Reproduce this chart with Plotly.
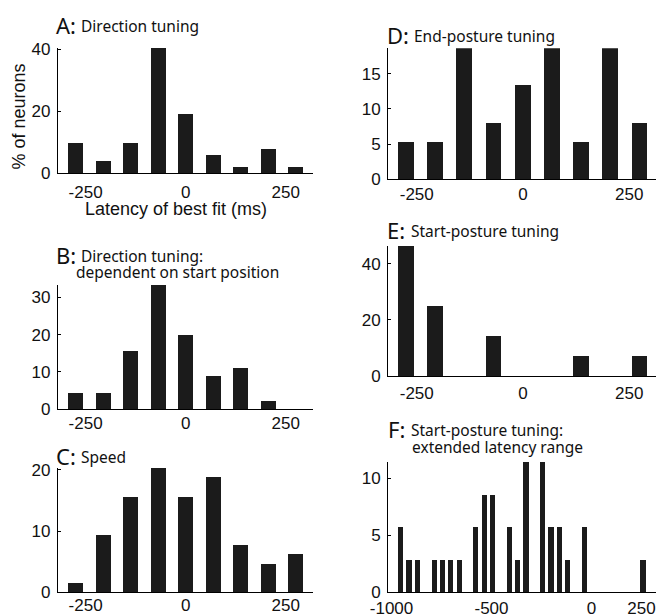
import plotly.graph_objects as go

# ---------------- data ----------------
latency_bins_ms = [-275, -206.25, -137.5, -68.75, 0, 68.75, 137.5, 206.25, 275]
pct_A_direction = [9.6, 3.8, 9.6, 40.4, 19.2, 5.8, 1.9, 7.7, 1.9]
pct_B_direction_start = [4.4, 4.4, 15.6, 33.3, 20.0, 8.9, 11.1, 2.2, 0]
pct_C_speed = [1.6, 9.4, 15.6, 20.3, 15.6, 18.8, 7.8, 4.7, 6.3]
pct_D_end_posture = [5.3, 5.3, 18.7, 8.0, 13.3, 18.7, 5.3, 18.7, 8.0]
pct_E_start_posture = [46.4, 25.0, 0, 14.3, 0, 0, 7.1, 0, 7.1]

ext_latency_bins_ms = [-952.5, -910.7, -869.0, -827.2, -785.5, -743.7, -701.9, -660.2,
                       -618.4, -576.7, -534.9, -493.1, -451.4, -409.6, -367.9, -326.1,
                       -284.3, -242.6, -200.8, -159.1, -117.3, -75.5, -33.8, 8.0,
                       49.7, 91.5, 133.3, 175.0, 216.8, 258.5]
pct_F_start_ext = [5.71, 2.86, 2.86, 0, 2.86, 2.86, 2.86, 2.86,
                   0, 5.71, 8.57, 8.57, 0, 5.71, 2.86, 11.43,
                   0, 11.43, 5.71, 5.71, 2.86, 0, 5.71, 0,
                   0, 0, 0, 0, 0, 2.86]

x_ticks_short = [-250, 0, 250]
x_ticks_long = [-1000, -500, 0, 250]

W, H = 656, 616
BAR = "#1b1b1b"
TICKFONT = dict(family="Liberation Sans, Arial, sans-serif", size=17, color="#111")
TITLEFONT = "Noto Sans, Open Sans, sans-serif"


def fx(px):
    return px / W


def fy(py):
    return 1 - py / H


panels = [
    # bins, values, bar width, x domain px, y domain px (top, bottom), x range, y range, y ticks, x ticks, x label standoff
    (latency_bins_ms, pct_A_direction, 37, (58, 313), (48, 173), (-319, 318), (0, 40.4), [0, 20, 40], x_ticks_short, 3),
    (latency_bins_ms, pct_B_direction_start, 37, (58, 313), (285, 409.3), (-319, 318), (0, 33.3), [0, 10, 20, 30], x_ticks_short, -2),
    (latency_bins_ms, pct_C_speed, 37, (58, 313), (468, 592.3), (-319, 318), (0, 20.3), [0, 10, 20], x_ticks_short, -3),
    (latency_bins_ms, pct_D_end_posture, 37, (388.3, 656), (48.3, 179.3), (-317, 313), (0, 18.6), [0, 5, 10, 15], x_ticks_short, -1),
    (latency_bins_ms, pct_E_start_posture, 37, (388.3, 656), (246, 376), (-317, 313), (0, 46.4), [0, 20, 40], x_ticks_short, 1),
    (ext_latency_bins_ms, pct_F_start_ext, 26, (388.3, 656), (461.7, 592.3), (-1016, 322.5), (0, 11.43), [0, 5, 10], x_ticks_long, 0),
]

fig = go.Figure()
layout = dict(
    width=W, height=H,
    margin=dict(l=0, r=0, t=0, b=0, pad=0, autoexpand=False),
    paper_bgcolor="white", plot_bgcolor="white",
    showlegend=False, bargap=0,
)

for i, (xb, vals, bw, xd, yd, xr, yr, yt, xt, xso) in enumerate(panels):
    n = "" if i == 0 else str(i + 1)
    fig.add_trace(go.Bar(
        x=xb, y=vals, width=[bw] * len(xb),
        marker=dict(color=BAR, line=dict(width=0)),
        xaxis="x" + n, yaxis="y" + n, hoverinfo="x+y",
    ))
    layout["xaxis" + n] = dict(
        domain=[fx(xd[0]), min(fx(xd[1]), 1.0)], range=list(xr), anchor="y" + n,
        showgrid=False, zeroline=False, showline=True, linecolor="black", linewidth=1.3,
        tickmode="array", tickvals=xt, ticktext=[str(v) for v in xt],
        ticks="", tickfont=TICKFONT, ticklabelstandoff=xso, automargin=False,
    )
    layout["yaxis" + n] = dict(
        domain=[fy(yd[1]), fy(yd[0])], range=list(yr), anchor="x" + n,
        showgrid=False, zeroline=False, showline=True, linecolor="black", linewidth=1.3,
        tickmode="array", tickvals=yt, ticks="inside", ticklen=3, tickwidth=1,
        tickcolor="black", tickfont=TICKFONT, ticklabelstandoff=3, automargin=False,
    )

fig.update_layout(**layout)

# ---------------- titles ----------------
ann = []


def letter(txt, x, yc):
    ann.append(dict(text=txt, x=fx(x - 2), y=fy(yc), xref="paper", yref="paper",
                    xanchor="left", yanchor="middle", showarrow=False, borderpad=0,
                    font=dict(family=TITLEFONT, size=22, color="#111")))


def label(txt, x, yc):
    ann.append(dict(text=txt, x=fx(x - 2), y=fy(yc), xref="paper", yref="paper",
                    xanchor="left", yanchor="middle", showarrow=False, borderpad=0,
                    font=dict(family=TITLEFONT, size=15.5, color="#111")))


letter("A:", 57, 25)
label("Direction tuning", 82, 26)
letter("B:", 57, 255)
label("Direction tuning:", 81.5, 256)
label("dependent on start position", 77, 271.5)
letter("C:", 57, 456)
label("Speed", 82, 457)
letter("D:", 388, 35.5)
label("End-posture tuning", 415, 36.5)
letter("E:", 388, 229.5)
label("Start-posture tuning", 411.5, 230.5)
letter("F:", 389, 429)
label("Start-posture tuning:", 411.5, 430)
label("extended latency range", 413, 446.5)

ann.append(dict(text="% of neurons", x=fx(18), y=fy(116.5), xref="paper", yref="paper",
                xanchor="center", yanchor="middle", showarrow=False, textangle=-90, borderpad=0,
                font=dict(family="Liberation Sans, Arial, sans-serif", size=18, color="#111")))
ann.append(dict(text="Latency of best fit (ms)", x=fx(176), y=fy(209), xref="paper", yref="paper",
                xanchor="center", yanchor="middle", showarrow=False, borderpad=0,
                font=dict(family="Liberation Sans, Arial, sans-serif", size=18, color="#111")))

fig.update_layout(annotations=ann)
fig.write_html("out.html")
